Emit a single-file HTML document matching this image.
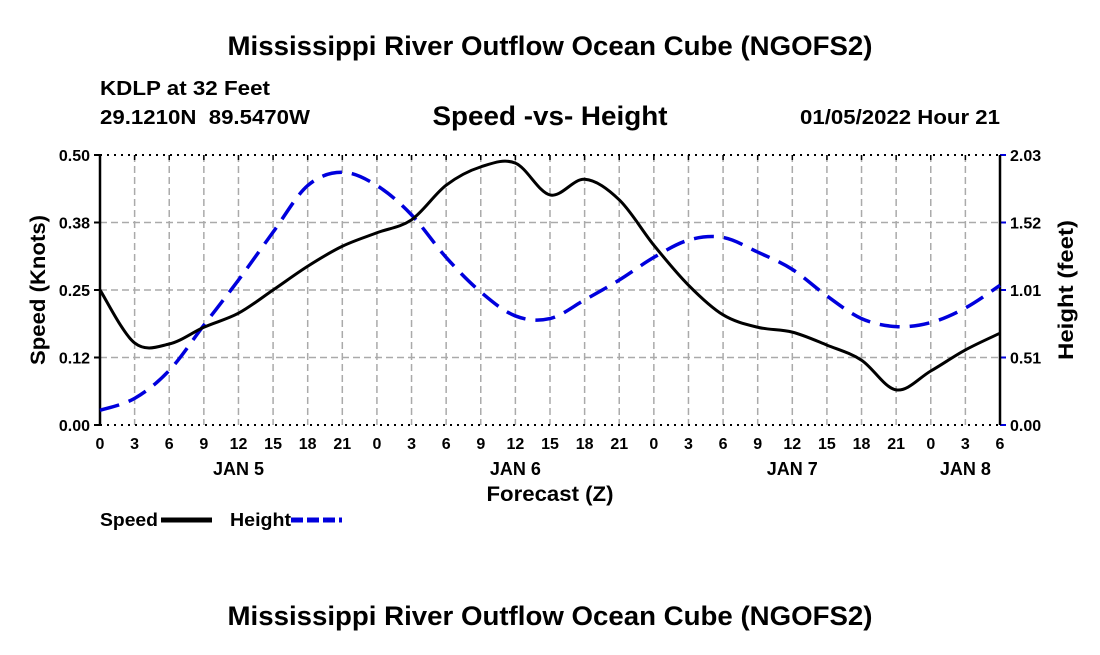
<!DOCTYPE html>
<html><head><meta charset="utf-8"><style>
body{margin:0;background:#fff;}
svg text{font-family:"Liberation Sans",Arial,sans-serif;font-weight:bold;fill:#000;}
</style></head><body>
<svg id="chart" width="1100" height="650" viewBox="0 0 1100 650" xmlns="http://www.w3.org/2000/svg">
<text x="550" y="55" font-size="27" text-anchor="middle" textLength="645" lengthAdjust="spacingAndGlyphs">Mississippi River Outflow Ocean Cube (NGOFS2)</text>
<text x="100" y="95" font-size="20" textLength="170" lengthAdjust="spacingAndGlyphs">KDLP at 32 Feet</text>
<text x="100" y="124" font-size="20" textLength="210" lengthAdjust="spacingAndGlyphs" xml:space="preserve">29.1210N  89.5470W</text>
<text x="550" y="125" font-size="27" text-anchor="middle" textLength="235" lengthAdjust="spacingAndGlyphs">Speed -vs- Height</text>
<text x="1000" y="124" font-size="20" text-anchor="end" textLength="200" lengthAdjust="spacingAndGlyphs">01/05/2022 Hour 21</text>
<g id="grid"></g>
<g id="axes"></g>
<g id="series"></g>
<text transform="translate(45,290) rotate(-90)" font-size="21" text-anchor="middle" textLength="150" lengthAdjust="spacingAndGlyphs">Speed (Knots)</text>
<text transform="translate(1073,290) rotate(-90)" font-size="21" text-anchor="middle" textLength="140" lengthAdjust="spacingAndGlyphs">Height (feet)</text>
<text x="550" y="501" font-size="21" text-anchor="middle" textLength="127" lengthAdjust="spacingAndGlyphs">Forecast (Z)</text>
<g>
<text x="100" y="526" font-size="18" textLength="58" lengthAdjust="spacingAndGlyphs">Speed</text>
<line x1="161" y1="520" x2="212" y2="520" stroke="#000" stroke-width="5"/>
<text x="230" y="526" font-size="18" textLength="61" lengthAdjust="spacingAndGlyphs">Height</text>
<line x1="291" y1="520" x2="342" y2="520" stroke="#0000dd" stroke-width="5" stroke-dasharray="12,4"/>
</g>
<text x="550" y="625" font-size="27" text-anchor="middle" textLength="645" lengthAdjust="spacingAndGlyphs">Mississippi River Outflow Ocean Cube (NGOFS2)</text>
</svg>
<script>
const hours=[0,3,6,9,12,15,18,21,24,27,30,33,36,39,42,45,48,51,54,57,60,63,66,69,72,75,78];
const speed=[0.25,0.152,0.15,0.181,0.207,0.25,0.294,0.331,0.356,0.38,0.444,0.478,0.485,0.426,0.455,0.417,0.333,0.259,0.204,0.181,0.172,0.148,0.12,0.065,0.10,0.139,0.17];
const height=[0.11,0.20,0.41,0.75,1.09,1.45,1.80,1.90,1.80,1.58,1.26,1.00,0.82,0.80,0.94,1.09,1.26,1.39,1.41,1.30,1.17,0.97,0.80,0.74,0.77,0.88,1.05];
const leftTicks=["0.00","0.12","0.25","0.38","0.50"];
const rightTicks=["0.00","0.51","1.01","1.52","2.03"];
const xTickLabels=["0","3","6","9","12","15","18","21","0","3","6","9","12","15","18","21","0","3","6","9","12","15","18","21","0","3","6"];
const dayLabels=["JAN 5","JAN 6","JAN 7","JAN 8"];
const dayHours=[12,36,60,75];
const L=100,R=1000,T=155,B=425,HMAX=78,SMAX=0.5,HTMAX=2.03;
const X=h=>L+h/HMAX*(R-L);
const YS=v=>B-v/SMAX*(B-T);
const YH=v=>B-v/HTMAX*(B-T);
const NS="http://www.w3.org/2000/svg";
function mk(tag,attrs,parent){const e=document.createElementNS(NS,tag);for(const k in attrs)e.setAttribute(k,attrs[k]);parent.appendChild(e);return e;}
const grid=document.getElementById('grid'),axes=document.getElementById('axes'),series=document.getElementById('series');
xTickLabels.forEach((lab,i)=>{const x=X(i*3);
 if(i>0&&i<xTickLabels.length-1){const g=mk('line',{x1:x,y1:T,x2:x,y2:B,stroke:'#aaa','stroke-width':1.5,'stroke-dasharray':'7,4'},grid);
 
 }
 const t=mk('text',{x:x,y:449,'font-size':16,'text-anchor':'middle'},axes);t.textContent=lab;
 
 
 const tk=mk('line',{x1:x,y1:T,x2:x,y2:T+5,stroke:'#000','stroke-width':1.5},axes);
 
 
});
dayLabels.forEach((d,i)=>{const t=mk('text',{x:X(dayHours[i]),y:475,'font-size':18,'text-anchor':'middle'},axes);t.textContent=d;
 
 });
leftTicks.forEach((lab,i)=>{const y=B-i*(B-T)/4;
 if(i>0&&i<4){const g=mk('line',{x1:L,y1:y,x2:R,y2:y,stroke:'#aaa','stroke-width':1.5,'stroke-dasharray':'7,4'},grid);
 
 }
 const t=mk('text',{x:L-10,y:y+6,'font-size':16,'text-anchor':'end'},axes);t.textContent=lab;
 
 
 const t2=mk('text',{x:R+10,y:y+6,'font-size':16},axes);t2.textContent=rightTicks[i];
 
 
 mk('line',{x1:L-6,y1:y,x2:L,y2:y,stroke:'#000','stroke-width':2},axes);
 mk('line',{x1:R,y1:y,x2:R+6,y2:y,stroke:'#0000dd','stroke-width':2},axes);
});
mk('line',{x1:L,y1:T,x2:R,y2:T,stroke:'#000','stroke-width':2,'stroke-dasharray':'2,5'},axes);
mk('line',{x1:L,y1:B,x2:R,y2:B,stroke:'#000','stroke-width':2,'stroke-dasharray':'2,5'},axes);
mk('line',{x1:L,y1:T,x2:L,y2:B,stroke:'#000','stroke-width':2.5},axes);
mk('line',{x1:R,y1:T,x2:R,y2:B,stroke:'#000','stroke-width':2.5},axes);
function smooth(pts){let d=`M${pts[0][0]},${pts[0][1]}`;
 for(let i=0;i<pts.length-1;i++){const p0=pts[i-1]||pts[i],p1=pts[i],p2=pts[i+1],p3=pts[i+2]||p2;
 d+=` C${p1[0]+(p2[0]-p0[0])/6},${p1[1]+(p2[1]-p0[1])/6} ${p2[0]-(p3[0]-p1[0])/6},${p2[1]-(p3[1]-p1[1])/6} ${p2[0]},${p2[1]}`;}
 return d;}
const hp=mk('path',{d:smooth(hours.map((h,i)=>[X(h),YH(height[i])])),fill:'none',stroke:'#0000dd','stroke-width':3.5,'stroke-dasharray':'20,10'},series);


const sp=mk('path',{d:smooth(hours.map((h,i)=>[X(h),YS(speed[i])])),fill:'none',stroke:'#000','stroke-width':3},series);


</script>
</body></html>
